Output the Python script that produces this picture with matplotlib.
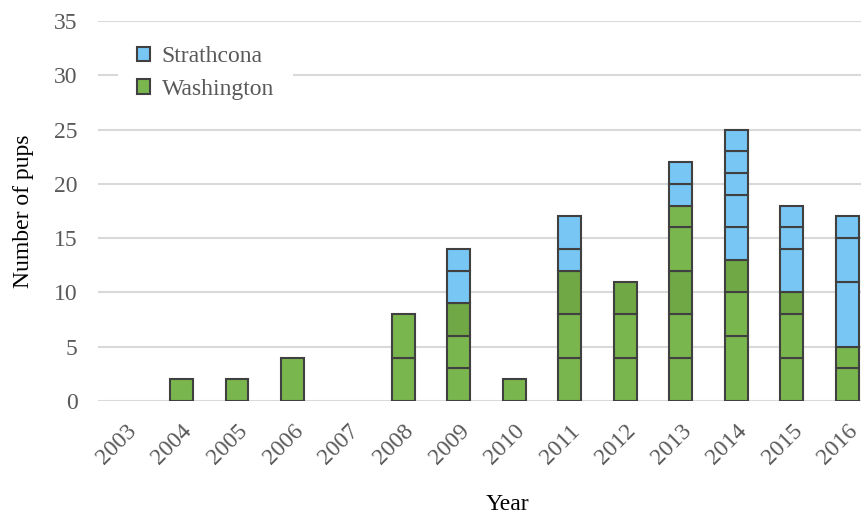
import matplotlib.pyplot as plt
from matplotlib.patches import Patch
from matplotlib.transforms import ScaledTranslation

plt.rcParams['font.family'] = ['Liberation Serif', 'DejaVu Serif']

years = ['2003', '2004', '2005', '2006', '2007', '2008', '2009',
         '2010', '2011', '2012', '2013', '2014', '2015', '2016']

# pups per litter, stacked bottom to top
washington = [[], [2], [2], [4], [], [4, 4], [3, 3, 3],
              [2], [4, 4, 4], [4, 4, 3], [4, 4, 4, 4, 2], [6, 4, 3], [4, 4, 2], [3, 2]]
strathcona = [[], [], [], [], [], [], [3, 2],
              [], [2, 3], [], [2, 2], [3, 3, 2, 2, 2], [4, 2, 2], [6, 4, 2]]

green = '#7AB64E'
green_dark = '#6FA845'
blue = '#77C6F4'
edge = '#404040'
grey_text = '#595959'

fig = plt.figure(figsize=(8.62, 5.15), dpi=100)
# plot area runs slightly past the right edge of the figure
ax = fig.add_axes([0.114, 0.2214, 0.901, 0.7376])

for i, year in enumerate(years):
    bottom = 0
    for j, n in enumerate(washington[i]):
        c = green_dark if j == 2 else green
        ax.bar(i, n, bottom=bottom, width=0.41, color=c, edgecolor=edge,
               linewidth=1.5, zorder=3)
        bottom += n
    for n in strathcona[i]:
        ax.bar(i, n, bottom=bottom, width=0.41, color=blue, edgecolor=edge,
               linewidth=1.5, zorder=3)
        bottom += n

ax.set_xlim(-0.5, len(years) - 0.5)
ax.set_ylim(0, 35)
ax.set_yticks(range(0, 36, 5))
ax.set_xticks(range(len(years)))
ax.set_xticklabels(years, rotation=45, ha='right', rotation_mode='anchor')
shift = ScaledTranslation(-7 / 100, 0, fig.dpi_scale_trans)
for lbl in ax.get_xticklabels():
    lbl.set_transform(lbl.get_transform() + shift)
ax.yaxis.grid(True, color='#D9D9D9', linewidth=1.5, zorder=0)
ax.set_axisbelow(True)
for s in ax.spines.values():
    s.set_visible(False)
ax.tick_params(length=0, labelsize=17, colors=grey_text)
ax.tick_params(axis='y', pad=15)
ax.tick_params(axis='x', pad=14)

ax.set_ylabel('Number of pups', fontsize=17, color='black', labelpad=14)
fig.text(507 / 862, 1 - 505 / 515, 'Year', fontsize=17, color='black',
         ha='center', va='center')

handles = [Patch(facecolor=blue, edgecolor=edge, linewidth=1.5, label='Strathcona'),
           Patch(facecolor=green, edgecolor=edge, linewidth=1.5, label='Washington')]
leg = ax.legend(handles=handles, loc='upper left', bbox_to_anchor=(0.01, 1.014),
                frameon=True, facecolor='white', edgecolor='none', framealpha=1,
                fancybox=False, fontsize=17, handlelength=0.55, handleheight=0.55,
                handletextpad=0.5, labelspacing=0.48, borderpad=0.8)
for t in leg.get_texts():
    t.set_color(grey_text)
leg.set_zorder(5)

fig.savefig('out.png', dpi=100, facecolor='white')
